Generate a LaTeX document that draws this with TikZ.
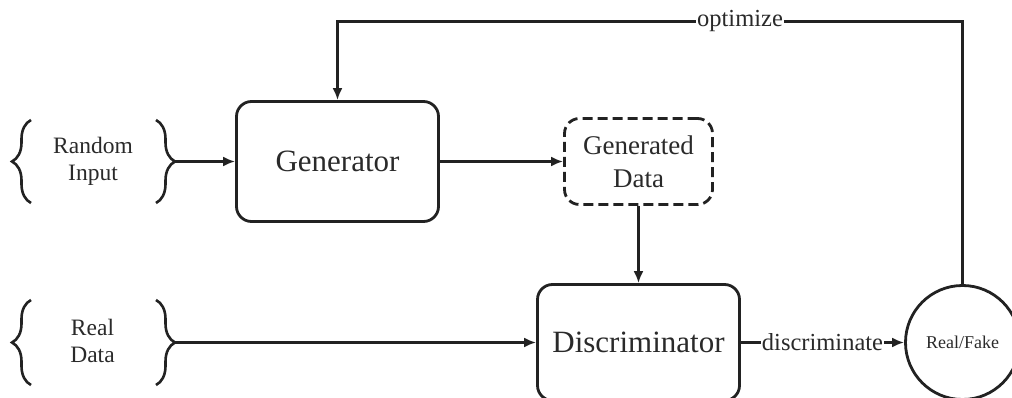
\documentclass[tikz,border=0pt]{standalone}
\usepackage{fontspec}
\setmainfont{Liberation Serif}
\usetikzlibrary{arrows.meta,decorations.pathreplacing}
\definecolor{ink}{HTML}{222222}
\definecolor{txt}{HTML}{2A2A2A}
\begin{document}
\begin{tikzpicture}[x=1pt,y=-1pt,
  every node/.style={text=txt},
  box/.style={draw=ink, rounded corners=15pt, line width=2.8pt, align=center, inner sep=0pt},
  bigtext/.style={font=\fontsize{31}{36}\selectfont},
  midtext/.style={font=\fontsize{27}{33}\selectfont, align=center},
  sidetext/.style={font=\fontsize{23.5}{27}\selectfont, align=center},
  lbl/.style={font=\fontsize{24.5}{28}\selectfont, fill=white, inner xsep=1pt, inner ysep=2pt},
  arr/.style={draw=ink, line width=2.8pt, -{Latex[length=12pt,width=10pt]}},
  bracket/.style={draw=ink, line width=2.6pt, decorate, decoration={brace, amplitude=19pt}},
]
\path[use as bounding box, clip] (0,0) rectangle (1012,398);

% nodes
\node[box, bigtext, minimum width=202pt, minimum height=120pt] (gen) at (337.5,161.5) {Generator};
\node[box, midtext, dashed, dash pattern=on 10pt off 5pt, minimum width=148pt, minimum height=86pt] (gd) at (638.5,161.5) {Generated\\Data};
\node[box, bigtext, minimum width=202pt, minimum height=116pt] (disc) at (638.5,342.5) {Discriminator};
\node[circle, draw=ink, line width=2.8pt, minimum size=114pt, inner sep=0pt, font=\fontsize{18}{21}\selectfont] (circ) at (962.5,342.5) {Real/Fake};

\node[sidetext] (ri) at (93,161) {Random\\Input};
\node[sidetext] (rd) at (92.5,341) {Real\\Data};

% braces
\draw[bracket] (31,203) -- (31,120);
\draw[bracket] (156,120) -- (156,203);
\coordinate (riTip) at (175,161.5);
\draw[bracket] (31,385) -- (31,300);
\draw[bracket] (156,300) -- (156,385);
\coordinate (rdTip) at (175,342.5);

% connectors
\draw[arr] (riTip) -- (riTip -| gen.west);
\draw[arr] (gen.east) -- (gd.west);
\draw[arr] (gd.south) -- (disc.north);
\draw[arr] (rdTip) -- (rdTip -| disc.west);
\draw[arr] (disc.east) -- node[lbl] {discriminate} (circ.west);
\coordinate (optL) at (gen.north |- 0,21.5);
\draw[arr] (circ.north) |- node[lbl, pos=0.678] {optimize} (optL) -- (gen.north);
\end{tikzpicture}
\end{document}
